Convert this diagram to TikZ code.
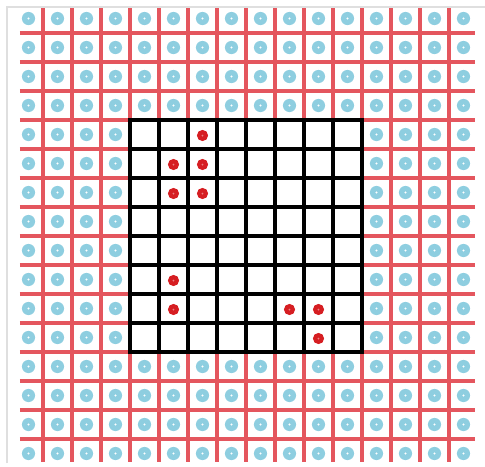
\documentclass[tikz,border=0pt]{standalone}
\usepackage{tikz}
\definecolor{gridred}{RGB}{228,86,94}
\definecolor{dotblue}{RGB}{142,206,224}
\definecolor{markred}{RGB}{214,30,34}

\begin{document}
\begin{tikzpicture}[x=0.02cm, y=-0.02cm,
	redline/.style={gridred, line width=2.2pt},
	blackline/.style={black, line width=2.8pt, line cap=rect}]
	\useasboundingbox (0,0) rectangle (485,467);
	\fill[white] (0,0) rectangle (485,467);
	\draw[gray!25, line width=0.6pt] (7,463) -- (7,7) -- (485,7);
	\foreach \k in {0,...,14} {
		\draw[redline] ({43+29*\k},8) -- ({43+29*\k},462);
		\draw[redline] (20,{33+29*\k}) -- (475,{33+29*\k});
	}
	\foreach \i in {0,...,15}
		\foreach \j in {0,...,15} {
			\fill[dotblue] ({28.5+29*\i},{18.5+29*\j}) circle (6.6);
			\fill[white] ({28.5+29*\i},{18.5+29*\j}) circle (1.1);
		}
	\begin{scope}[shift={(130,120)}]
		\fill[white] (0,0) rectangle (232,232);
		\foreach \k in {0,...,8} {
			\draw[blackline] ({29*\k},0) -- ({29*\k},232);
			\draw[blackline] (0,{29*\k}) -- (232,{29*\k});
		}
		\foreach \c/\r in {2/0, 1/1, 2/1, 1/2, 2/2, 1/5, 1/6, 5/6, 6/6, 6/7} {
			\fill[markred] ({14.5+29*\c},{15.5+29*\r}) circle (5.6);
			\fill[markred!55!white] ({14.5+29*\c},{15.5+29*\r}) circle (1);
		}
	\end{scope}
\end{tikzpicture}
\end{document}
